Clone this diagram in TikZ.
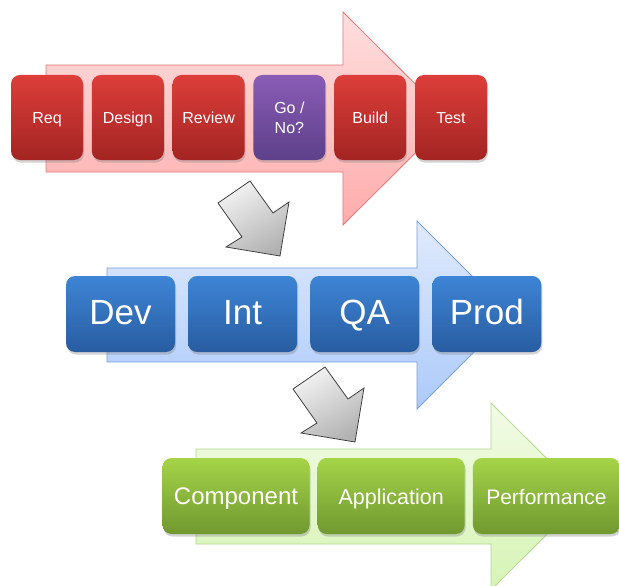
\documentclass[tikz,border=0pt]{standalone}
\usepackage{fontspec}
\setmainfont{Liberation Sans}
\usepackage{tikz}
\usetikzlibrary{positioning,shadows}

\begin{document}
\begin{tikzpicture}[x=1pt,y=-1pt,
        box/.style={rounded corners=9pt, inner sep=0pt, align=center, text=white,
            drop shadow={shadow xshift=1pt, shadow yshift=-2.5pt, opacity=0.35}},
        redbox/.style={box, minimum width=72pt, minimum height=85pt, text height=14pt, text depth=1.5pt,
            top color=redtop, bottom color=redbot, font=\fontsize{16}{20}\selectfont},
        gobox/.style={redbox, text height=, text depth=, top color=purtop, bottom color=purbot},
        bluebox/.style={box, minimum width=109pt, minimum height=76pt, text height=26.5pt, text depth=5pt,
            top color=bluetop, bottom color=bluebot, font=\fontsize{35}{40}\selectfont},
        greenbox/.style={box, minimum width=147pt, minimum height=76pt, text height=18.5pt, text depth=2pt,
            top color=greentop, bottom color=greenbot, font=\fontsize{21.5}{26}\selectfont},
        bigarrow/.style={line width=0.8pt},
        turnarrow/.style={draw=black!75, line width=0.8pt, top color=black!5, bottom color=black!30, shading angle=30}]
                \definecolor{redtop}{RGB}{221,62,58}
                \definecolor{redbot}{RGB}{163,36,34}
                \definecolor{purtop}{RGB}{138,92,182}
                \definecolor{purbot}{RGB}{93,64,138}
                \definecolor{bluetop}{RGB}{62,133,214}
                \definecolor{bluebot}{RGB}{40,92,160}
                \definecolor{greentop}{RGB}{165,212,72}
                \definecolor{greenbot}{RGB}{112,152,48}
                \useasboundingbox (0,0) rectangle (619,586);
                \begin{scope}
                \clip (0,0) rectangle (619,586);
                % wide arrows behind the boxes
                \draw [bigarrow, draw={rgb,255:red,226;green,120;blue,120}, top color={rgb,255:red,255;green,222;blue,222}, bottom color={rgb,255:red,255;green,172;blue,172}]
                    (46,65) -- (343,65) -- (343,12) -- (450,118.5) -- (343,225) -- (343,172) -- (46,172) -- cycle;
                \draw [bigarrow, draw={rgb,255:red,122;green,160;blue,214}, top color={rgb,255:red,224;green,234;blue,252}, bottom color={rgb,255:red,172;green,202;blue,250}]
                    (107,268) -- (417,268) -- (417,221) -- (511,315) -- (417,409) -- (417,362) -- (107,362) -- cycle;
                \draw [bigarrow, draw={rgb,255:red,178;green,216;blue,142}, top color={rgb,255:red,242;green,251;blue,230}, bottom color={rgb,255:red,214;green,244;blue,180}]
                    (196,449) -- (491,449) -- (491,403) -- (585,496.5) -- (491,590) -- (491,544) -- (196,544) -- cycle;
                \end{scope}
                % turning arrows
                \draw [turnarrow] (250,181) -- (273,213) -- (289,202) -- (280,256) -- (226,247) -- (242,237) -- (218,203) -- cycle;
                \draw [turnarrow, shift={(75,186)}] (250,181) -- (273,213) -- (289,202) -- (280,256) -- (226,247) -- (242,237) -- (218,203) -- cycle;
                % first row
                \node [redbox] (req) at (47,117.5) {Req};
                \node [redbox, right=8.4pt of req] (design) {Design};
                \node [redbox, right=8.4pt of design] (review) {Review};
                \node [gobox, right=8.4pt of review] (gono) {Go /\\No?};
                \node [redbox, right=8.4pt of gono] (build) {Build};
                \node [redbox, right=8.4pt of build] (test) {Test};
                % second row
                \node [bluebox] (dev) at (120.5,314) {Dev};
                \node [bluebox, right=12.7pt of dev] (int) {Int};
                \node [bluebox, right=12.7pt of int] (qa) {QA};
                \node [bluebox, right=12.7pt of qa] (prod) {Prod};
                % third row
                \node [greenbox, font=\fontsize{24}{28}\selectfont] (component) at (236,496) {Component};
                \node [greenbox, right=7.8pt of component] (application) {Application};
                \node [greenbox, right=7.8pt of application, font=\fontsize{21}{26}\selectfont] (performance) {Performance};
            \end{tikzpicture}
\end{document}
